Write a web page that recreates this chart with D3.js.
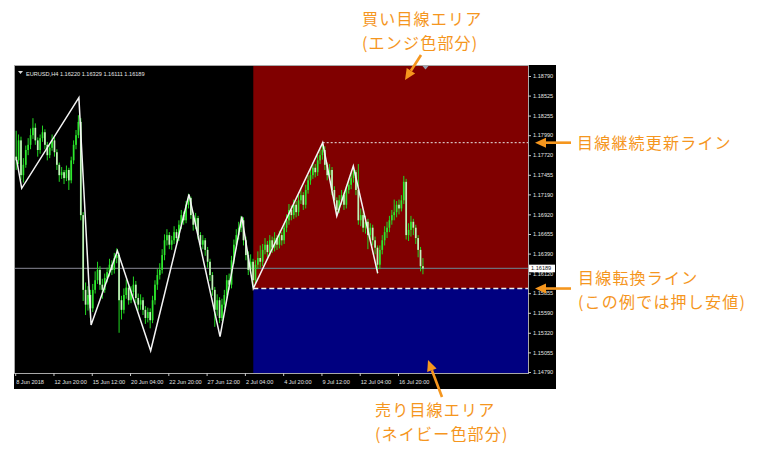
<!DOCTYPE html>
<html><head><meta charset="utf-8">
<script src="https://cdn.jsdelivr.net/npm/d3@7"></script>
<style>body{margin:0;background:#fff}svg{display:block}</style>
</head><body><svg id="c" width="760" height="453"></svg>
<script>
// ---------- data ----------
const symbolTitle = "EURUSD,H4";
const headerValues = ["1.16220", "1.16329", "1.16111", "1.16189"];
const xTickIndex = [0, 16, 32, 48, 64, 80, 96, 112, 128, 144, 160];
const xTickLabels = ["8 Jun 2018", "12 Jun 20:00", "15 Jun 12:00", "20 Jun 04:00", "22 Jun 20:00",
  "27 Jun 12:00", "2 Jul 04:00", "4 Jul 20:00", "9 Jul 12:00", "12 Jul 04:00", "16 Jul 20:00"];
const yTicks = [1.18790, 1.18525, 1.18255, 1.17990, 1.17720, 1.17455, 1.17190, 1.16920,
  1.16655, 1.16390, 1.16120, 1.15855, 1.15590, 1.15320, 1.15055, 1.14790];

const firstOpen = 1.1770;
const closes = [
 1.1765,1.1792,1.1745,1.1759,1.1779,1.1786,1.1799,1.1809,1.1792,1.1779,
 1.1795,1.1803,1.1786,1.1772,1.1782,1.1792,1.1776,1.1759,1.1745,1.1749,
 1.1741,1.1752,1.1738,1.1765,1.1786,1.1799,1.1817,1.1691,1.1590,1.1570,
 1.1583,1.1565,1.1590,1.1603,1.1617,1.1597,1.1590,1.1606,1.1614,1.1624,
 1.1617,1.1633,1.1637,1.1576,1.1563,1.1583,1.1593,1.1576,1.1587,1.1597,
 1.1579,1.1570,1.1576,1.1563,1.1552,1.1560,1.1549,1.1576,1.1597,1.1610,
 1.1617,1.1637,1.1657,1.1664,1.1651,1.1657,1.1668,1.1660,1.1678,1.1691,
 1.1684,1.1705,1.1714,1.1691,1.1678,1.1687,1.1664,1.1651,1.1657,1.1644,
 1.1628,1.1610,1.1590,1.1563,1.1576,1.1552,1.1570,1.1583,1.1603,1.1597,
 1.1630,1.1651,1.1664,1.1674,1.1684,1.1657,1.1637,1.1617,1.1628,1.1603,
 1.1624,1.1633,1.1628,1.1644,1.1651,1.1641,1.1657,1.1647,1.1660,1.1651,
 1.1664,1.1657,1.1674,1.1684,1.1698,1.1691,1.1705,1.1695,1.1711,1.1718,
 1.1705,1.1725,1.1738,1.1745,1.1755,1.1749,1.1765,1.1772,1.1779,1.1759,
 1.1745,1.1752,1.1725,1.1711,1.1698,1.1711,1.1718,1.1705,1.1725,1.1732,
 1.1741,1.1749,1.1725,1.1684,1.1691,1.1674,1.1682,1.1664,1.1674,1.1657,
 1.1647,1.1624,1.1644,1.1657,1.1668,1.1674,1.1684,1.1691,1.1695,1.1705,
 1.1700,1.1711,1.1736,1.1664,1.1671,1.1682,1.1674,1.1660,1.1644,1.16220,
 1.16189];
const highs = [
 1.1805,1.1800,1.1797,1.1768,1.1785,1.1795,1.1808,1.1822,1.1815,1.1796,
 1.1800,1.1812,1.1807,1.1790,1.1788,1.1800,1.1796,1.1780,1.1762,1.1756,
 1.1752,1.1758,1.1755,1.1770,1.1792,1.1806,1.1826,1.1822,1.1695,1.1600,
 1.1595,1.1590,1.1598,1.1615,1.1628,1.1622,1.1605,1.1612,1.1620,1.1632,
 1.1630,1.1640,1.1646,1.1640,1.1582,1.1592,1.1604,1.1598,1.1595,1.1608,
 1.1602,1.1585,1.1584,1.1580,1.1568,1.1566,1.1565,1.1582,1.1603,1.1618,
 1.1626,1.1645,1.1665,1.1672,1.1668,1.1663,1.1676,1.1672,1.1684,1.1698,
 1.1696,1.1710,1.1720,1.1716,1.1695,1.1694,1.1690,1.1668,1.1664,1.1660,
 1.1648,1.1632,1.1614,1.1594,1.1584,1.1580,1.1578,1.1590,1.1610,1.1612,
 1.1636,1.1658,1.1672,1.1682,1.1690,1.1688,1.1662,1.1642,1.1638,1.1632,
 1.1630,1.1642,1.1650,1.1652,1.1660,1.1656,1.1664,1.1662,1.1668,1.1664,
 1.1670,1.1668,1.1680,1.1692,1.1706,1.1704,1.1712,1.1710,1.1718,1.1726,
 1.1722,1.1732,1.1745,1.1754,1.1762,1.1760,1.1772,1.1780,1.1786,1.1784,
 1.1762,1.1760,1.1756,1.1730,1.1715,1.1718,1.1725,1.1722,1.1730,1.1740,
 1.1748,1.1756,1.1752,1.1760,1.1700,1.1696,1.1690,1.1686,1.1680,1.1678,
 1.1662,1.1650,1.1650,1.1664,1.1676,1.1682,1.1690,1.1698,1.1712,1.1710,
 1.1712,1.1718,1.1744,1.1740,1.1680,1.1690,1.1686,1.1678,1.1664,1.1648,
 1.16329];
const lows = [
 1.1752,1.1760,1.1738,1.1735,1.1755,1.1772,1.1780,1.1794,1.1786,1.1770,
 1.1774,1.1790,1.1780,1.1765,1.1768,1.1778,1.1770,1.1752,1.1736,1.1740,
 1.1733,1.1737,1.1725,1.1734,1.1760,1.1780,1.1795,1.1684,1.1575,1.1556,
 1.1562,1.1552,1.1560,1.1585,1.1598,1.1590,1.1578,1.1586,1.1600,1.1608,
 1.1610,1.1612,1.1626,1.1532,1.1550,1.1558,1.1578,1.1570,1.1572,1.1582,
 1.1572,1.1562,1.1563,1.1556,1.1544,1.1546,1.1538,1.1545,1.1570,1.1590,
 1.1604,1.1612,1.1630,1.1650,1.1645,1.1644,1.1652,1.1654,1.1656,1.1672,
 1.1678,1.1680,1.1700,1.1686,1.1670,1.1672,1.1658,1.1644,1.1645,1.1636,
 1.1620,1.1602,1.1582,1.1540,1.1555,1.1545,1.1548,1.1565,1.1578,1.1590,
 1.1592,1.1625,1.1645,1.1658,1.1668,1.1650,1.1630,1.1610,1.1612,1.1593,
 1.1598,1.1618,1.1620,1.1622,1.1638,1.1634,1.1636,1.1640,1.1642,1.1644,
 1.1646,1.1650,1.1652,1.1668,1.1678,1.1684,1.1686,1.1688,1.1690,1.1706,
 1.1698,1.1700,1.1720,1.1732,1.1740,1.1742,1.1744,1.1760,1.1766,1.1752,
 1.1738,1.1740,1.1718,1.1704,1.1690,1.1694,1.1705,1.1698,1.1700,1.1720,
 1.1726,1.1735,1.1718,1.1678,1.1676,1.1668,1.1666,1.1645,1.1658,1.1650,
 1.1638,1.1612,1.1618,1.1638,1.1650,1.1660,1.1668,1.1678,1.1684,1.1688,
 1.1692,1.1696,1.1706,1.1658,1.1656,1.1662,1.1664,1.1652,1.1634,1.1615,
 1.16111];

// hand-drawn zigzag (bar index, price)
const zzIndex = [0.2, 2.3, 26.2, 31.3, 42.3, 56.2, 72.2, 85.2, 94.3, 99.1, 128.1, 134.0, 140.9, 151.1];
const zzPrice = [1.17655, 1.17272, 1.18497, 1.15425, 1.16429, 1.15078, 1.17191, 1.15267, 1.16889, 1.15918, 1.17889, 1.16898, 1.17574, 1.16124];

const lastPrice = 1.16189;
const switchIndex = 99.1, switchLinePrice = 1.15918;     // 目線転換ライン (押し安値)
const continueIndex = 128.1, continueLinePrice = 1.17889; // 目線継続更新ライン
const barsVisible = 214;

const noteBuy = ["買い目線エリア", "(エンジ色部分)"];
const noteSell = ["売り目線エリア", "(ネイビー色部分)"];
const noteContinue = ["目線継続更新ライン"];
const noteSwitch = ["目線転換ライン", "(この例では押し安値)"];

// ---------- layout ----------
const svg = d3.select("#c");
const P = {l: 15, r: 528, t: 66, b: 373};
const x = d3.scaleLinear().domain([0, barsVisible]).range([16.2, 528.2]);
const y = d3.scaleLinear().domain([1.14790, 1.18790]).range([372, 76]);
const orange = "#f5961e";
const axisFont = "Liberation Sans, Arial, sans-serif";

// window
svg.append("rect").attr("x", 14).attr("y", 65).attr("width", 542).attr("height", 324).attr("fill", "#000");
svg.append("defs").append("clipPath").attr("id", "clip").append("rect")
  .attr("x", P.l).attr("y", P.t).attr("width", P.r - P.l).attr("height", P.b - P.t);
const plot = svg.append("g").attr("clip-path", "url(#clip)");

// areas
plot.append("rect").attr("x", x(switchIndex)).attr("y", P.t)
  .attr("width", P.r - x(switchIndex)).attr("height", y(switchLinePrice) - P.t).attr("fill", "#800000");
plot.append("rect").attr("x", x(switchIndex)).attr("y", y(switchLinePrice))
  .attr("width", P.r - x(switchIndex)).attr("height", P.b - y(switchLinePrice)).attr("fill", "#000080");

// current price line
plot.append("line").attr("x1", P.l).attr("x2", P.r).attr("y1", y(lastPrice)).attr("y2", y(lastPrice))
  .attr("stroke", "#6e6e78").attr("stroke-width", 1.3);

// candles
const candles = closes.map((c, i) => ({i, o: i ? closes[i - 1] : firstOpen, h: highs[i], l: lows[i], c}));
const cg = plot.append("g");
cg.selectAll("line.w").data(candles).join("line")
  .attr("x1", d => x(d.i)).attr("x2", d => x(d.i)).attr("y1", d => y(d.h)).attr("y2", d => y(d.l))
  .attr("stroke", "#22d822").attr("stroke-width", 1);
cg.selectAll("rect.b").data(candles).join("rect")
  .attr("x", d => x(d.i) - 0.85).attr("width", 1.7)
  .attr("y", d => y(Math.max(d.o, d.c)))
  .attr("height", d => Math.max(0.8, Math.abs(y(d.o) - y(d.c))))
  .attr("fill", d => d.c >= d.o ? "#2ee82e" : "#c4f2bc");

// zigzag
const zz = zzIndex.map((v, k) => [v, zzPrice[k]]);
plot.append("path").attr("d", d3.line().x(d => x(d[0])).y(d => y(d[1]))(zz))
  .attr("fill", "none").attr("stroke", "#f4f4f4").attr("stroke-width", 1.5).attr("stroke-linejoin", "miter");

// lines
plot.append("line").attr("x1", x(continueIndex)).attr("x2", P.r)
  .attr("y1", y(continueLinePrice)).attr("y2", y(continueLinePrice))
  .attr("stroke", "#e8e8e8").attr("stroke-width", 1).attr("stroke-dasharray", "2,2");
plot.append("line").attr("x1", x(switchIndex)).attr("x2", P.r)
  .attr("y1", y(switchLinePrice)).attr("y2", y(switchLinePrice))
  .attr("stroke", "#f0f0f0").attr("stroke-width", 1.5).attr("stroke-dasharray", "5,3");

// frame
svg.append("rect").attr("x", 14.5).attr("y", 65.5).attr("width", P.r - 14).attr("height", P.b - 65)
  .attr("fill", "none").attr("stroke", "#a8a8a8").attr("stroke-width", 1);

// header
svg.append("path").attr("d", "M18,71 L23,71 L20.5,74 Z").attr("fill", "#ddd");
svg.append("text").attr("x", 26).attr("y", 75.5).attr("fill", "#e6e6e6")
  .style("font", "5.6px " + axisFont).text(symbolTitle + "  " + headerValues.join(" "));
// chart shift marker
svg.append("path").attr("d", "M422.5,66 L428.5,66 L425.5,69.5 Z").attr("fill", "#9aa0b0");

// y axis
const ya = svg.append("g").attr("transform", `translate(${P.r},0)`)
  .call(d3.axisRight(y).tickValues(yTicks).tickSize(3).tickPadding(2).tickFormat(d3.format(".5f")));
ya.select(".domain").remove();
ya.selectAll("line").attr("stroke", "#c8c8c8");
ya.selectAll("text").attr("fill", "#e0e0e0").style("font", "5.6px " + axisFont);

// current price tag
svg.append("rect").attr("x", 529).attr("y", y(lastPrice) - 3.8).attr("width", 26).attr("height", 7.6).attr("fill", "#fff");
svg.append("text").attr("x", 531).attr("y", y(lastPrice) + 2).attr("fill", "#111")
  .style("font", "5.6px " + axisFont).text(d3.format(".5f")(lastPrice));

// x axis
const xa = svg.append("g");
xTickIndex.forEach((t, k) => {
  xa.append("line").attr("x1", x(t) - 0.5).attr("x2", x(t) - 0.5).attr("y1", P.b).attr("y2", P.b + 3)
    .attr("stroke", "#c8c8c8");
  xa.append("text").attr("x", x(t)).attr("y", 383.5).attr("fill", "#e0e0e0")
    .style("font", "5.6px " + axisFont).text(xTickLabels[k]);
});

// annotations
const jp = "'Noto Sans CJK JP', sans-serif";
function note(lines, x0, y0, lh) {
  lines.forEach((s, k) => svg.append("text").attr("x", x0).attr("y", y0 + k * lh)
    .attr("fill", orange).style("font", "16px " + jp).style("letter-spacing", "1.2px").text(s));
}
function arrow(x1, y1, x2, y2) {
  const a = Math.atan2(y2 - y1, x2 - x1), L = 11, W = 5;
  const bx = x2 - L * Math.cos(a), by = y2 - L * Math.sin(a);
  svg.append("line").attr("x1", x1).attr("y1", y1).attr("x2", bx).attr("y2", by)
    .attr("stroke", orange).attr("stroke-width", 2.6);
  const px = -Math.sin(a) * W, py = Math.cos(a) * W;
  svg.append("path").attr("d", `M${x2},${y2} L${bx + px},${by + py} L${bx - px},${by - py} Z`).attr("fill", orange);
}
note(noteBuy, 362, 24.5, 24);
arrow(421, 55, 405, 80);
note(noteSell, 375, 416, 24);
arrow(442, 397, 428, 360);
note(noteContinue, 577, 149, 20);
arrow(571, y(continueLinePrice), 535, y(continueLinePrice));
note(noteSwitch, 578, 284, 24);
arrow(571, y(switchLinePrice), 535, y(switchLinePrice));
</script></body></html>
